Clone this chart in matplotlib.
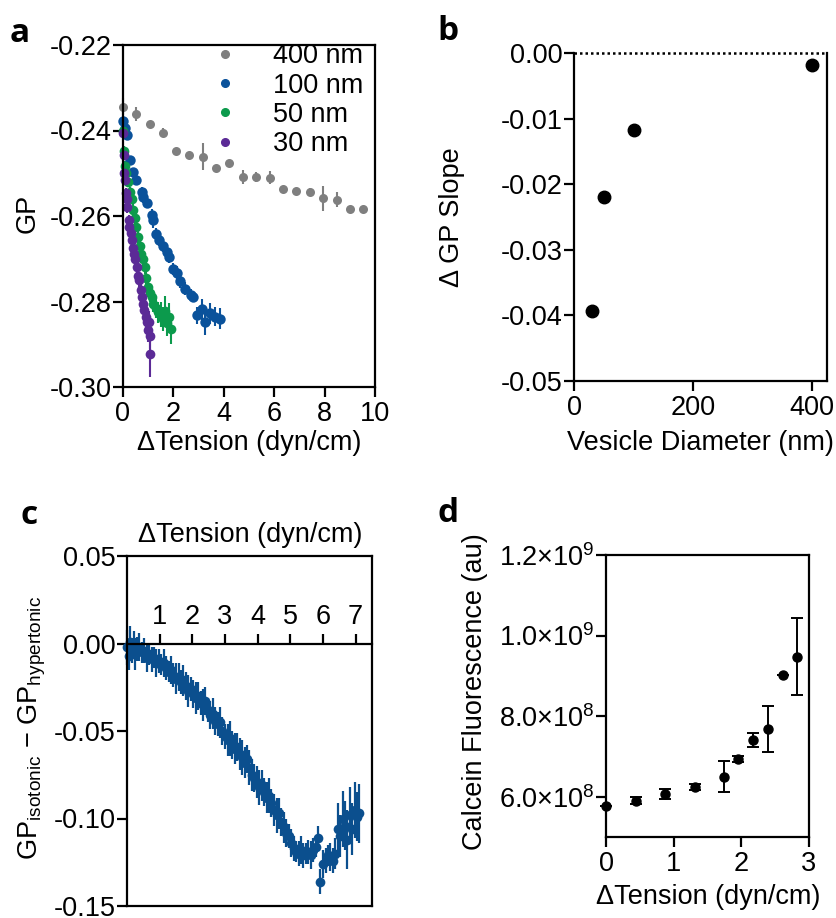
import numpy as np
import matplotlib
matplotlib.use('Agg')
import matplotlib.pyplot as plt
from matplotlib.ticker import FuncFormatter

plt.rcParams['font.family'] = ['Liberation Sans', 'DejaVu Sans']
plt.rcParams['mathtext.fontset'] = 'custom'
plt.rcParams['mathtext.rm'] = 'Liberation Sans'
plt.rcParams['mathtext.it'] = 'Liberation Sans'

W, H = 836, 918
FS = 19.5
GRAY, BLUE, GREEN, PURPLE = '#7f7f7f', '#0a529b', '#0c9a4c', '#5b2a96'
CBLUE = '#0b4f8e'

# ---- panel a: GP vs tension for four vesicle sizes
a400_x = [0.00, 0.52, 1.06, 1.57, 2.10, 2.63, 3.16, 3.69, 4.22, 4.76, 5.29, 5.82,
          6.35, 6.88, 7.42, 7.95, 8.48, 9.01, 9.54]
a400_y = [-0.2344, -0.2361, -0.2385, -0.2405, -0.2447, -0.2457, -0.2461, -0.2488,
          -0.2475, -0.2509, -0.2509, -0.2510, -0.2536, -0.2541, -0.2544, -0.2559,
          -0.2562, -0.2583, -0.2583]
a400_e = [0.0020, 0.0017, 0.0, 0.0010, 0.0005, 0.0, 0.0032, 0.0005, 0.0, 0.0016,
          0.0012, 0.0016, 0.0006, 0.0, 0.0010, 0.0030, 0.0017, 0.0, 0.0006]

a100_x = [0.00, 0.06, 0.15, 0.26, 0.38, 0.52, 0.74, 0.79, 0.94, 1.14, 1.18, 1.30,
          1.44, 1.57, 1.73, 1.84, 1.97, 2.13, 2.28, 2.46, 2.69, 2.76, 2.92, 3.12,
          3.25, 3.45, 3.65, 3.85]
a100_y = [-0.2377, -0.2395, -0.2411, -0.2469, -0.2498, -0.2516, -0.2543, -0.2556,
          -0.2570, -0.2598, -0.2609, -0.2641, -0.2655, -0.2670, -0.2684, -0.2695,
          -0.2723, -0.2734, -0.2752, -0.2770, -0.2784, -0.2789, -0.2832, -0.2818,
          -0.2848, -0.2828, -0.2836, -0.2840]
a100_e = [0.0008, 0.0010, 0.0006, 0.0008, 0.0010, 0.0012, 0.0010, 0.0014, 0.0012,
          0.0015, 0.0018, 0.0012, 0.0016, 0.0014, 0.0018, 0.0015, 0.0014, 0.0017,
          0.0016, 0.0015, 0.0014, 0.0012, 0.0020, 0.0025, 0.0030, 0.0025, 0.0022,
          0.0025]

a50_x = [0.00, 0.03, 0.08, 0.13, 0.20, 0.27, 0.34, 0.40, 0.47, 0.53, 0.60, 0.66,
         0.73, 0.80, 0.87, 0.93, 1.00, 1.07, 1.14, 1.20, 1.30, 1.40, 1.50, 1.60,
         1.65, 1.75, 1.82, 1.92]
a50_y = [-0.2400, -0.2447, -0.2484, -0.2500, -0.2520, -0.2545, -0.2560, -0.2585,
         -0.2605, -0.2625, -0.2650, -0.2670, -0.2690, -0.2700, -0.2720, -0.2745,
         -0.2765, -0.2780, -0.2790, -0.2805, -0.2815, -0.2825, -0.2830, -0.2840,
         -0.2822, -0.2850, -0.2836, -0.2865]
a50_e = [0.0006, 0.0010, 0.0012, 0.0010, 0.0012, 0.0014, 0.0012, 0.0015, 0.0014,
         0.0012, 0.0015, 0.0014, 0.0016, 0.0014, 0.0015, 0.0016, 0.0018, 0.0020,
         0.0022, 0.0020, 0.0024, 0.0025, 0.0030, 0.0028, 0.0035, 0.0030, 0.0032,
         0.0035]

a30_x = [0.00, 0.02, 0.04, 0.07, 0.10, 0.14, 0.17, 0.22, 0.25, 0.30, 0.35, 0.40,
         0.43, 0.48, 0.54, 0.60, 0.65, 0.70, 0.75, 0.80, 0.85, 0.90, 0.95, 1.00,
         1.05, 1.08, 1.07]
a30_y = [-0.2406, -0.2457, -0.2500, -0.2516, -0.2547, -0.2560, -0.2578, -0.2610,
         -0.2625, -0.2640, -0.2656, -0.2675, -0.2688, -0.2700, -0.2719, -0.2740,
         -0.2750, -0.2773, -0.2790, -0.2805, -0.2820, -0.2836, -0.2848, -0.2867,
         -0.2848, -0.2880, -0.2922]
a30_e = [0.0006, 0.0008, 0.0010, 0.0010, 0.0012, 0.0012, 0.0014, 0.0012, 0.0015,
         0.0014, 0.0015, 0.0016, 0.0014, 0.0016, 0.0018, 0.0016, 0.0018, 0.0020,
         0.0018, 0.0020, 0.0022, 0.0025, 0.0022, 0.0028, 0.0025, 0.0030, 0.0055]

# ---- panel b: slope vs diameter
b_diam  = [30, 50, 100, 400]
b_slope = [-0.0393, -0.0219, -0.0117, -0.0018]

# ---- panel c: GP difference vs tension
c_x = [0.00, 0.05, 0.10, 0.15, 0.20, 0.25, 0.30, 0.38, 0.45, 0.52, 0.60, 0.68,
       0.75, 0.82, 0.90, 0.98, 1.05, 1.12, 1.20, 1.28, 1.35, 1.42, 1.50, 1.58,
       1.65, 1.72, 1.80, 1.88, 1.95, 2.02, 2.10, 2.18, 2.25, 2.32, 2.40, 2.48,
       2.55, 2.62, 2.70, 2.78, 2.85, 2.92, 3.00, 3.08, 3.15, 3.22, 3.30, 3.38,
       3.45, 3.52, 3.60, 3.68, 3.75, 3.82, 3.90, 3.98, 4.05, 4.12, 4.20, 4.28,
       4.35, 4.42, 4.50, 4.58, 4.65, 4.72, 4.80, 4.88, 4.95, 5.02, 5.10, 5.18,
       5.25, 5.32, 5.40, 5.48, 5.55, 5.62, 5.70, 5.78, 5.85, 5.92, 6.00, 6.08,
       6.15, 6.22, 6.30, 6.38, 6.45, 6.52, 6.60, 6.68, 6.75, 6.82, 6.90, 6.98,
       7.05, 7.10]
c_y = [-0.002, -0.007, 0.001, -0.004, -0.001, -0.006, -0.003, -0.002, -0.005,
       -0.004, -0.008, -0.006, -0.009, -0.008, -0.011, -0.010, -0.012, -0.011,
       -0.014, -0.016, -0.015, -0.018, -0.020, -0.019, -0.022, -0.021, -0.024,
       -0.027, -0.026, -0.029, -0.031, -0.030, -0.034, -0.035, -0.033, -0.038,
       -0.041, -0.040, -0.044, -0.046, -0.045, -0.050, -0.053, -0.055, -0.054,
       -0.058, -0.060, -0.059, -0.063, -0.065, -0.068, -0.066, -0.071, -0.075,
       -0.077, -0.079, -0.082, -0.081, -0.085, -0.088, -0.087, -0.091, -0.095,
       -0.098, -0.097, -0.102, -0.105, -0.108, -0.110, -0.114, -0.117, -0.119,
       -0.120, -0.118, -0.121, -0.120, -0.119, -0.121, -0.118, -0.116, -0.111,
       -0.136, -0.126, -0.124, -0.121, -0.122, -0.124, -0.120, -0.106, -0.110,
       -0.100, -0.104, -0.112, -0.098, -0.106, -0.095, -0.099, -0.097]
c_e = [0.010, 0.008, 0.009, 0.007, 0.008, 0.009, 0.007, 0.008, 0.006, 0.007,
       0.008, 0.006, 0.007, 0.006, 0.008, 0.007, 0.006, 0.008, 0.007, 0.006,
       0.008, 0.007, 0.009, 0.008, 0.007, 0.009, 0.008, 0.009, 0.007, 0.008,
       0.009, 0.008, 0.007, 0.009, 0.008, 0.007, 0.008, 0.009, 0.008, 0.007,
       0.009, 0.008, 0.007, 0.009, 0.010, 0.008, 0.009, 0.008, 0.009, 0.010,
       0.009, 0.008, 0.010, 0.009, 0.008, 0.009, 0.010, 0.009, 0.008, 0.009,
       0.010, 0.008, 0.009, 0.010, 0.009, 0.008, 0.009, 0.008, 0.007, 0.008,
       0.007, 0.006, 0.007, 0.008, 0.007, 0.006, 0.007, 0.008, 0.007, 0.006,
       0.007, 0.007, 0.008, 0.007, 0.006, 0.008, 0.007, 0.009, 0.015, 0.012,
       0.016, 0.014, 0.017, 0.016, 0.015, 0.016, 0.014, 0.017]

# ---- panel d: calcein fluorescence vs tension
d_x = [0.00, 0.44, 0.87, 1.31, 1.74, 1.95, 2.17, 2.39, 2.61, 2.82]
d_y = [5.77e8, 5.90e8, 6.07e8, 6.24e8, 6.50e8, 6.94e8, 7.41e8, 7.67e8, 9.01e8, 9.48e8]
d_e = [0.0, 0.9e7, 1.3e7, 0.8e7, 3.8e7, 0.8e7, 1.7e7, 5.7e7, 0.0, 9.6e7]

fig = plt.figure(figsize=(W / 100, H / 100), dpi=100)


def add_ax(l, t, r, b):
    return fig.add_axes([l / W, 1 - b / H, (r - l) / W, (b - t) / H])


def style(ax):
    for s in ax.spines.values():
        s.set_linewidth(1.6)
    ax.tick_params(labelsize=FS, width=1.6, length=7, direction='out')
    ax.tick_params(axis='y', pad=1)
    ax.tick_params(axis='x', pad=3)


def ftext(x, y, s, **kw):
    kw.setdefault('ha', 'center')
    kw.setdefault('va', 'center')
    kw.setdefault('fontsize', FS)
    fig.text(x / W, 1 - y / H, s, **kw)


# panel a
ax = add_ax(123, 45, 375, 387)
style(ax)
eb = dict(fmt='o', capsize=4, elinewidth=1.5, capthick=1.5, markeredgewidth=0)
for xs, ys, es, col, lab, ms in [(a400_x, a400_y, a400_e, GRAY, '400 nm', 6.5),
                                 (a100_x, a100_y, a100_e, BLUE, '100 nm', 7.5),
                                 (a50_x, a50_y, a50_e, GREEN, '50 nm', 7),
                                 (a30_x, a30_y, a30_e, PURPLE, '30 nm', 7)]:
    ax.errorbar(xs, ys, yerr=es, color=col, ms=ms, clip_on=False, **eb)
    ax.plot([], [], 'o', color=col, ms=5.5, label=lab)
ax.set_xlim(0, 10)
ax.set_ylim(-0.30, -0.22)
ax.set_xticks(range(0, 11, 2))
ax.set_yticks(np.arange(-0.30, -0.219, 0.02))
ax.yaxis.set_major_formatter(FuncFormatter(lambda v, p: f'{v:.2f}'))
ax.legend(loc='upper right', bbox_to_anchor=(1.03, 1.06), frameon=False, fontsize=FS,
          handlelength=1.0, handletextpad=1.3, labelspacing=0.12, borderpad=0.2,
          markerfirst=True)
for t in ax.get_legend().get_texts():
    t.set_ha('left')
ftext(28, 213, 'GP', rotation=90)
ftext(249, 443, 'ΔTension (dyn/cm)')

# panel b
ax = add_ax(574, 53, 827, 381)
style(ax)
ax.spines['top'].set_visible(False)
ax.plot(b_diam, b_slope, 'o', color='black', ms=9, clip_on=False)
ax.axhline(0, color='black', ls=(0, (1, 1.2)), lw=1.8, clip_on=False)
ax.set_xlim(0, 425)
ax.set_ylim(-0.05, 0.0)
ax.set_xticks([0, 200, 400])
ax.set_yticks(np.arange(-0.05, 0.001, 0.01))
ax.yaxis.set_major_formatter(FuncFormatter(lambda v, p: f'{v:.2f}' if abs(v) > 1e-9 else '0.00'))
ftext(452, 217, 'Δ GP Slope', rotation=90)
ftext(700, 443, 'Vesicle Diameter (nm)')

# panel c
ax = add_ax(127, 556, 372, 906)
style(ax)
ax.errorbar(c_x, c_y, yerr=c_e, fmt='o', color=CBLUE, ms=7, capsize=5,
            elinewidth=1.6, capthick=1.6, markeredgewidth=0, clip_on=False)
ax.set_xlim(0, 7.5)
ax.set_ylim(-0.15, 0.05)
ax.spines['top'].set_position(('data', 0))
ax.xaxis.tick_top()
ax.set_xticks(range(1, 8))
ax.tick_params(axis='x', direction='out', length=7, pad=3)
ax.axhline(0.05, color='black', lw=1.6, clip_on=False)
ax.set_yticks([-0.15, -0.10, -0.05, 0.0, 0.05])
ax.yaxis.set_major_formatter(FuncFormatter(lambda v, p: f'{v:.2f}' if abs(v) > 1e-9 else '0.00'))
ftext(250, 535, 'ΔTension (dyn/cm)')
ftext(32, 728, r'GP$_{\mathrm{isotonic}}$ − GP$_{\mathrm{hypertonic}}$', rotation=90)

# panel d
ax = add_ax(606, 555, 809, 837)
style(ax)
ax.errorbar(d_x, d_y, yerr=d_e, fmt='o', color='black', ms=6.5, capsize=4,
            elinewidth=1.4, capthick=1.4, clip_on=False)
ax.set_xlim(0, 3)
ax.set_ylim(5.0e8, 1.2e9)
ax.set_xticks([0, 1, 2, 3])
ax.set_yticks([6e8, 8e8, 1.0e9, 1.2e9])
ax.yaxis.set_major_formatter(FuncFormatter(
    lambda v, p: f'{v / 10 ** int(np.floor(np.log10(v))):.1f}×10$^{{{int(np.floor(np.log10(v)))}}}$'))
ftext(475, 692, 'Calcein Fluorescence (au)', rotation=90)
ftext(708, 897, 'ΔTension (dyn/cm)')

# panel letters
for x, y, s in [(20, 33, 'a'), (448, 32, 'b'), (29, 515, 'c'), (448, 513, 'd')]:
    ftext(x, y, s, fontsize=24, fontweight='bold', family=['Open Sans', 'DejaVu Sans'])

fig.savefig('out.png', dpi=100)
